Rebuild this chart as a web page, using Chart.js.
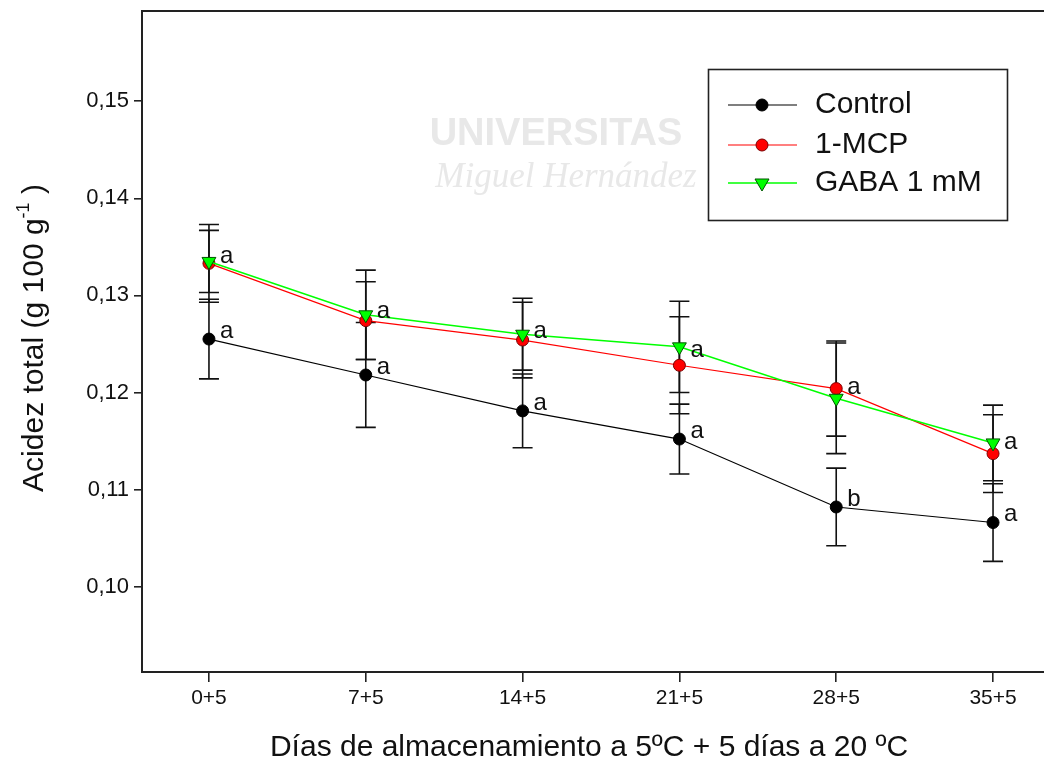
<!DOCTYPE html>
<html>
<head>
<meta charset="utf-8">
<script src="https://cdn.jsdelivr.net/npm/chart.js@4.4.1/dist/chart.umd.min.js"></script>
<style>
  html, body { margin: 0; padding: 0; background: #ffffff; }
  #wrap { width: 1044px; height: 778px; }
</style>
</head>
<body>
<div id="wrap"><canvas id="c" width="1044" height="778"></canvas></div>
<script>
// Storage days at 5 ºC followed by 5 days at 20 ºC
const categories = ['0+5', '7+5', '14+5', '21+5', '28+5', '35+5'];

// Total acidity (g 100 g-1), mean and error per treatment
const controlMean = [0.1255, 0.1218, 0.1181, 0.1152, 0.1082, 0.1066];
const controlErr  = [0.0041, 0.0054, 0.0038, 0.0036, 0.0040, 0.0040];
const mcpMean     = [0.1333, 0.1274, 0.1254, 0.1228, 0.1204, 0.1137];
const mcpErr      = [0.0040, 0.0040, 0.0039, 0.0050, 0.0049, 0.0040];
const gabaMean    = [0.1335, 0.1280, 0.1260, 0.1247, 0.1194, 0.1148];
const gabaErr     = [0.0032, 0.0046, 0.0037, 0.0047, 0.0057, 0.0039];

// Significance letters
const controlLetters = ['a', 'a', 'a', 'a', 'b', 'a'];
const treatedLetters = ['a', 'a', 'a', 'a', 'a', 'a'];

const yTicks = [0.10, 0.11, 0.12, 0.13, 0.14, 0.15];
const yMin = 0.0912, yMax = 0.1593;

const FONT = '"Liberation Sans", Arial, sans-serif';

const series = [
  { label: 'GABA 1 mM', mean: gabaMean, err: gabaErr, color: '#00ff00', style: 'tri', order: 0 },
  { label: '1-MCP', mean: mcpMean, err: mcpErr, color: '#ff0000', style: 'circle', order: 1 },
  { label: 'Control', mean: controlMean, err: controlErr, color: '#000000', style: 'circle', order: 2 }
];

const toPoints = arr => arr.map((v, i) => ({ x: i, y: v }));

const datasets = series.map(s => ({
  label: s.label,
  data: toPoints(s.mean),
  borderColor: s.color,
  borderWidth: s.style === 'tri' ? 1.5 : 1.2,
  backgroundColor: s.color,
  pointStyle: s.style === 'tri' ? 'triangle' : 'circle',
  pointRotation: s.style === 'tri' ? 180 : 0,
  pointRadius: s.style === 'tri' ? 8 : 6,
  pointBorderColor: s.style === 'tri' ? '#005500' : (s.color === '#ff0000' ? '#7a0000' : '#000000'),
  pointBorderWidth: 1,
  pointBackgroundColor: s.color,
  tension: 0,
  order: s.order,
  errors: s.err
}));

// Vertical error bars with caps, drawn beneath lines and markers
const errorBars = {
  id: 'errorBars',
  beforeDatasetsDraw(chart) {
    const { ctx, scales: { x, y } } = chart;
    ctx.save();
    ctx.strokeStyle = '#111111';
    ctx.lineWidth = 1.6;
    const cap = 10;
    chart.data.datasets.forEach(ds => {
      ds.data.forEach((p, i) => {
        const e = ds.errors[i];
        const px = x.getPixelForValue(p.x);
        const top = y.getPixelForValue(p.y + e);
        const bot = y.getPixelForValue(p.y - e);
        ctx.beginPath();
        ctx.moveTo(px, top); ctx.lineTo(px, bot);
        ctx.moveTo(px - cap, top); ctx.lineTo(px + cap, top);
        ctx.moveTo(px - cap, bot); ctx.lineTo(px + cap, bot);
        ctx.stroke();
      });
    });
    ctx.restore();
  }
};

// Letters next to the markers
const letterLabels = {
  id: 'letterLabels',
  afterDatasetsDraw(chart) {
    const { ctx, scales: { x, y } } = chart;
    ctx.save();
    ctx.font = '24px ' + FONT;
    ctx.fillStyle = '#111111';
    ctx.textAlign = 'left';
    ctx.textBaseline = 'middle';
    categories.forEach((c, i) => {
      const px = x.getPixelForValue(i) + 11;
      const cy = y.getPixelForValue(controlMean[i]) - 8;
      ctx.fillText(controlLetters[i], px, cy);
      const ty = y.getPixelForValue((mcpMean[i] + gabaMean[i]) / 2) - 6;
      ctx.fillText(treatedLetters[i], px, ty);
    });
    ctx.restore();
  }
};

// Frame top edge, axis titles, legend and faint watermark text
const decorations = {
  id: 'decorations',
  beforeDraw(chart) {
    const { ctx } = chart;
    ctx.save();
    ctx.fillStyle = '#ffffff';
    ctx.fillRect(0, 0, chart.width, chart.height);
    ctx.fillStyle = '#e8e8e8';
    ctx.textAlign = 'center';
    ctx.textBaseline = 'middle';
    ctx.font = 'bold 38px ' + FONT;
    ctx.fillText('UNIVERSITAS', 556, 135);
    ctx.font = 'italic 35px "Liberation Serif", "Times New Roman", serif';
    ctx.fillText('Miguel Hernández', 566, 178);
    ctx.restore();
  },
  afterDraw(chart) {
    const { ctx, chartArea: a } = chart;
    ctx.save();
    ctx.strokeStyle = '#222222';
    ctx.lineWidth = 2;
    ctx.beginPath();
    ctx.moveTo(a.left - 1, a.top);
    ctx.lineTo(a.right, a.top);
    ctx.stroke();

    ctx.fillStyle = '#111111';
    // x title
    ctx.font = '30px ' + FONT;
    ctx.textAlign = 'center';
    ctx.textBaseline = 'middle';
    ctx.fillText('Días de almacenamiento a 5ºC + 5 días a 20 ºC', 589, 748);

    // y title with superscript
    const main = '30px ' + FONT, sup = '18px ' + FONT;
    const p1 = 'Acidez total (g 100 g', p2 = '-1', p3 = ' )';
    ctx.font = main; const w1 = ctx.measureText(p1).width, w3 = ctx.measureText(p3).width;
    ctx.font = sup; const w2 = ctx.measureText(p2).width;
    const total = w1 + w2 + w3;
    ctx.translate(35, 338);
    ctx.rotate(-Math.PI / 2);
    ctx.textAlign = 'left';
    ctx.textBaseline = 'middle';
    let sx = -total / 2;
    ctx.font = main; ctx.fillText(p1, sx, 0); sx += w1;
    ctx.font = sup; ctx.fillText(p2, sx, -11); sx += w2;
    ctx.font = main; ctx.fillText(p3, sx, 0);
    ctx.setTransform(1, 0, 0, 1, 0, 0);

    // legend
    ctx.strokeStyle = '#222222';
    ctx.lineWidth = 1.6;
    ctx.strokeRect(708.5, 69.5, 299, 151);
    const rows = [
      { s: series[2], y: 105 },
      { s: series[1], y: 145 },
      { s: series[0], y: 183 }
    ];
    rows.forEach(r => {
      ctx.strokeStyle = r.s.color;
      ctx.lineWidth = r.s.style === 'tri' ? 1.5 : 1.2;
      ctx.beginPath(); ctx.moveTo(728, r.y); ctx.lineTo(797, r.y); ctx.stroke();
      ctx.fillStyle = r.s.color;
      ctx.lineWidth = 1;
      ctx.beginPath();
      if (r.s.style === 'tri') {
        ctx.strokeStyle = '#005500';
        ctx.moveTo(762 - 7, r.y - 4); ctx.lineTo(762 + 7, r.y - 4); ctx.lineTo(762, r.y + 8); ctx.closePath();
      } else {
        ctx.strokeStyle = r.s.color === '#ff0000' ? '#7a0000' : '#000000';
        ctx.arc(762, r.y, 6, 0, Math.PI * 2);
      }
      ctx.fill(); ctx.stroke();
      ctx.fillStyle = '#111111';
      ctx.font = '30px ' + FONT;
      ctx.textAlign = 'left';
      ctx.textBaseline = 'middle';
      ctx.fillText(r.s.label, 815, r.y);
    });
    ctx.restore();
  }
};

new Chart(document.getElementById('c'), {
  type: 'line',
  data: { datasets },
  options: {
    responsive: false,
    animation: false,
    layout: { autoPadding: false, padding: { top: 11, left: 0, right: 0, bottom: 0 } },
    plugins: { legend: { display: false }, tooltip: { enabled: false } },
    scales: {
      x: {
        type: 'linear',
        min: -0.427,
        max: 5.325,
        afterBuildTicks: s => { s.ticks = categories.map((c, i) => ({ value: i })); },
        afterFit: s => { s.height = 106; s.paddingLeft = 0; s.paddingRight = 0; },
        ticks: {
          callback: v => categories[v],
          color: '#111111',
          font: { family: FONT, size: 21 },
          padding: 4,
          maxRotation: 0,
          autoSkip: false
        },
        grid: { drawOnChartArea: false, drawTicks: true, tickLength: 10, color: '#222222', lineWidth: 1.6 },
        border: { display: true, color: '#222222', width: 2 }
      },
      y: {
        min: yMin,
        max: yMax,
        afterBuildTicks: s => { s.ticks = yTicks.map(v => ({ value: v })); },
        afterFit: s => { s.width = 142; s.paddingTop = 0; s.paddingBottom = 0; },
        ticks: {
          callback: v => v.toFixed(2).replace('.', ','),
          color: '#111111',
          font: { family: FONT, size: 22 },
          padding: 5
        },
        grid: { drawOnChartArea: false, drawTicks: true, tickLength: 8, color: '#222222', lineWidth: 1.6 },
        border: { display: true, color: '#222222', width: 2 }
      }
    }
  },
  plugins: [errorBars, letterLabels, decorations]
});
</script>
</body>
</html>
